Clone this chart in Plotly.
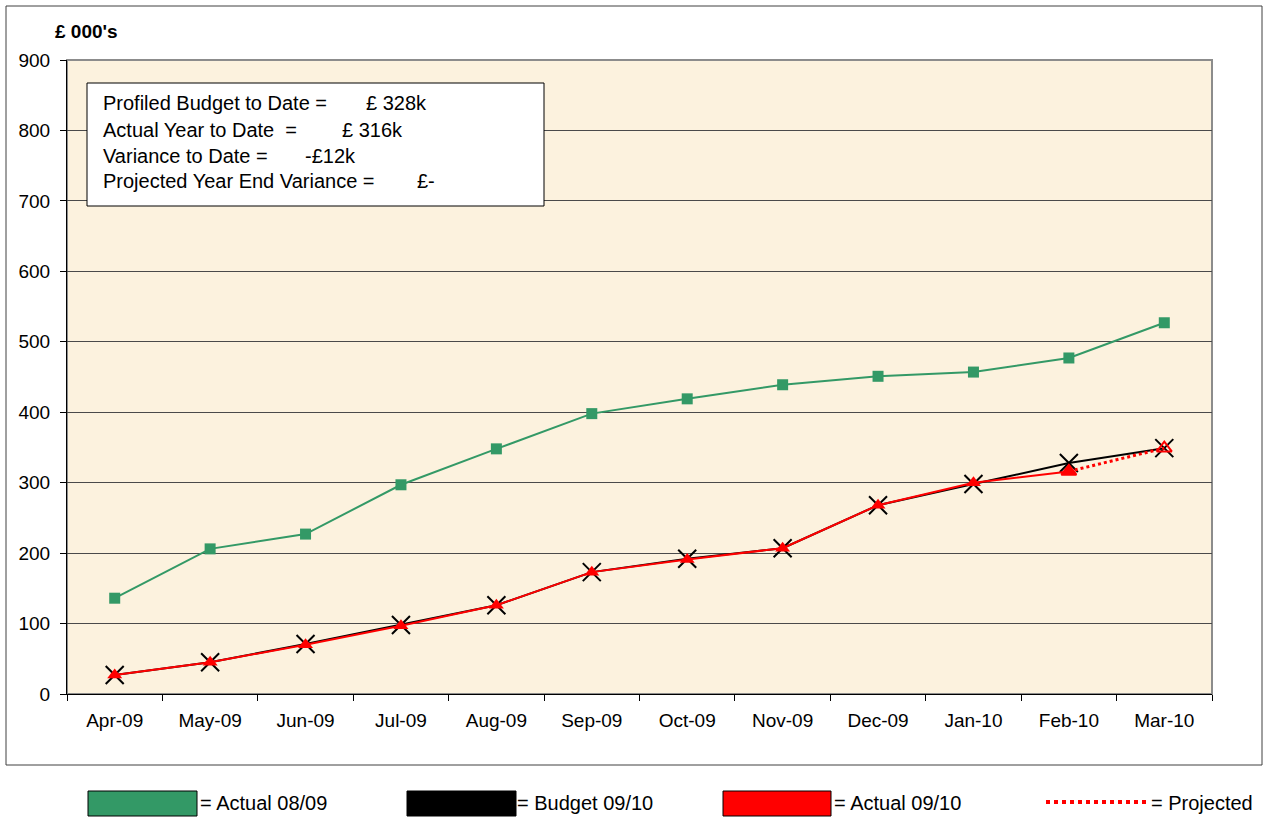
import plotly.graph_objects as go

# ---- data (£ 000's, cumulative) ----
months = ["Apr-09", "May-09", "Jun-09", "Jul-09", "Aug-09", "Sep-09",
          "Oct-09", "Nov-09", "Dec-09", "Jan-10", "Feb-10", "Mar-10"]
actual_0809 = [136, 206, 227, 297, 348, 398, 419, 439, 451, 457, 477, 527]
budget_0910 = [27, 45, 71, 98, 126, 173, 192, 207, 268, 298, 328, 349]
actual_0910 = [27, 45, 70, 97, 126, 173, 191, 207, 268, 300, 316]
projected_months = ["Feb-10", "Mar-10"]
projected = [316, 349]

summary_labels = ["Profiled Budget to Date =", "Actual Year to Date  =",
                  "Variance to Date =", "Projected Year End Variance ="]
summary_values = ["£ 328k", "£ 316k", "-£12k", "£-"]

legend_names = ["= Actual 08/09", "= Budget 09/10", "= Actual 09/10", "= Projected"]

GREEN = "#339966"
RED = "#FF0000"
FONT = "Liberation Sans, Arial, sans-serif"

W, H = 1267, 818
L, R, T, B = 67, 1212, 60, 694  # plot area in pixels


def px(x):
    return (x - L) / (R - L)


def py(y):
    return (B - y) / (B - T)


fig = go.Figure()

fig.add_trace(go.Scatter(
    x=months, y=actual_0809, mode="lines+markers",
    line=dict(color=GREEN, width=2),
    marker=dict(symbol="square", size=11, color=GREEN),
    name="Actual 08/09"))

fig.add_trace(go.Scatter(
    x=months, y=budget_0910, mode="lines+markers",
    line=dict(color="black", width=2),
    marker=dict(symbol="x-thin-open", size=18,
                line=dict(color="black", width=2)),
    name="Budget 09/10"))

fig.add_trace(go.Scatter(
    x=months[:len(actual_0910)], y=actual_0910, mode="lines+markers",
    line=dict(color=RED, width=2),
    marker=dict(symbol="triangle-up", size=13, color=RED),
    name="Actual 09/10"))

fig.add_trace(go.Scatter(
    x=projected_months, y=projected, mode="lines+markers",
    line=dict(color=RED, width=3, dash="dot"),
    marker=dict(symbol=["triangle-up", "triangle-up-open"], size=13,
                color=RED, line=dict(color=RED, width=2)),
    name="Projected"))

shapes = []
# outer chart frame
shapes.append(dict(type="rect", xref="paper", yref="paper",
                   x0=px(6), x1=px(1262), y0=py(765), y1=py(6),
                   line=dict(color="#404040", width=1), layer="below"))
# plot-area frame (grey)
shapes.append(dict(type="rect", xref="paper", yref="paper",
                   x0=0, x1=1, y0=0, y1=1,
                   line=dict(color="#8c8c8c", width=2), layer="below"))
# summary box
shapes.append(dict(type="rect", xref="paper", yref="paper",
                   x0=px(87), x1=px(544), y0=py(206), y1=py(83),
                   fillcolor="white", line=dict(color="black", width=1),
                   layer="above"))

# custom legend swatches
legend_swatches = [(88, 197, GREEN), (407, 516, "black"), (723, 831, RED)]
for x0, x1, c in legend_swatches:
    shapes.append(dict(type="rect", xref="paper", yref="paper",
                       x0=px(x0), x1=px(x1), y0=py(816), y1=py(791),
                       fillcolor=c, line=dict(color="black", width=1)))
shapes.append(dict(type="line", xref="paper", yref="paper",
                   x0=px(1046), x1=px(1150), y0=py(802), y1=py(802),
                   line=dict(color=RED, width=4, dash="dot")))

annotations = []
annotations.append(dict(text="<b>£ 000's</b>", xref="paper", yref="paper",
                        x=px(53), y=py(31), xanchor="left", yanchor="middle",
                        showarrow=False, font=dict(size=19, color="black", family=FONT)))

line_ys = [103, 130, 156, 181]
value_xs = [364, 340, 303, 415]
for lab, val, ly, vx in zip(summary_labels, summary_values, line_ys, value_xs):
    annotations.append(dict(text=lab, xref="paper", yref="paper",
                            x=px(101), y=py(ly), xanchor="left", yanchor="middle",
                            showarrow=False,
                            font=dict(size=20, color="black", family=FONT)))
    annotations.append(dict(text=val, xref="paper", yref="paper",
                            x=px(vx), y=py(ly), xanchor="left", yanchor="middle",
                            showarrow=False,
                            font=dict(size=20, color="black", family=FONT)))

legend_text_xs = [198, 515, 832, 1149]
for name, tx in zip(legend_names, legend_text_xs):
    annotations.append(dict(text=name, xref="paper", yref="paper",
                            x=px(tx), y=py(803), xanchor="left", yanchor="middle",
                            showarrow=False,
                            font=dict(size=20, color="black", family=FONT)))

fig.update_layout(
    width=W, height=H,
    margin=dict(l=L, r=W - R, t=T, b=H - B),
    paper_bgcolor="white",
    plot_bgcolor="#FCF2DE",
    showlegend=False,
    font=dict(family=FONT, size=19, color="black"),
    shapes=shapes,
    annotations=annotations,
)

fig.update_xaxes(
    type="category", categoryorder="array", categoryarray=months,
    range=[-0.5, 11.5], tickson="boundaries",
    ticks="outside", ticklen=6, tickcolor="black",
    ticklabelstandoff=9,
    showline=True, linecolor="black", linewidth=1,
    showgrid=False, tickfont=dict(size=19), fixedrange=True,
)
fig.update_yaxes(
    range=[0, 900], dtick=100, tick0=0,
    ticks="outside", ticklen=6, tickcolor="black",
    ticklabelstandoff=6,
    showline=True, linecolor="black", linewidth=1,
    showgrid=True, gridcolor="#4a4a4a", gridwidth=1,
    zeroline=False, tickfont=dict(size=19), fixedrange=True,
)

fig.write_html("out.html")
